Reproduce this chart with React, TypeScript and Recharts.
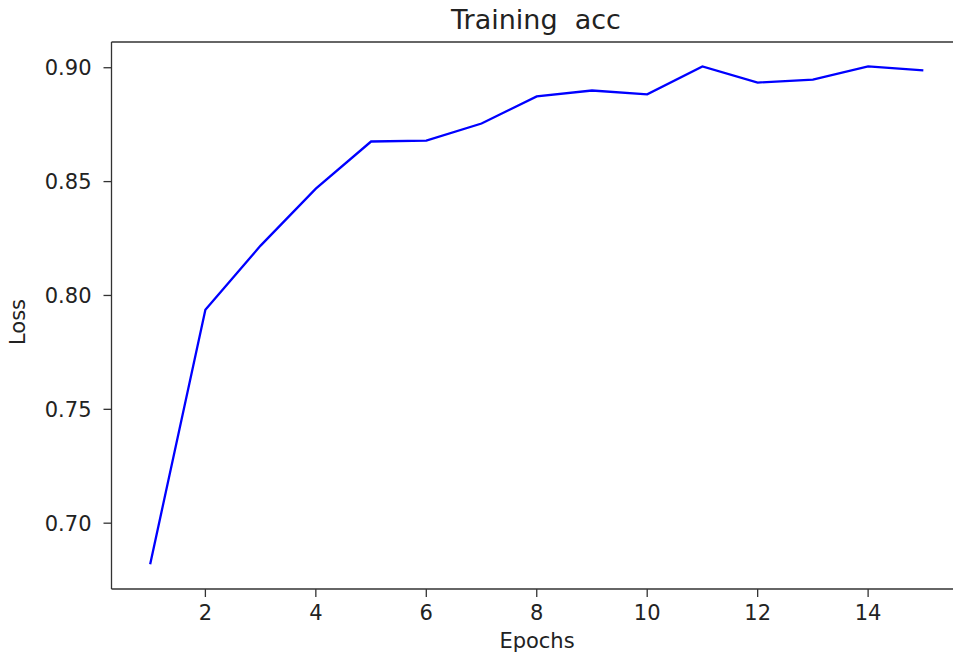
import React from "react";
import { LineChart, Line, XAxis, YAxis, ReferenceLine } from "recharts";

const epochs = [1, 2, 3, 4, 5, 6, 7, 8, 9, 10, 11, 12, 13, 14, 15];
const accuracy = [
    0.682, 0.7937, 0.8219, 0.8469, 0.8676, 0.868, 0.8755, 0.8874, 0.89, 0.8883,
    0.9006, 0.8935, 0.8948, 0.9006, 0.8988,
];
const xTicks = [2, 4, 6, 8, 10, 12, 14];
const yTicks = [0.7, 0.75, 0.8, 0.85, 0.9];
const xDomain = [0.3, 15.7];
const yDomain = [0.6711, 0.9113];

const data = epochs.map((e, i) => ({ epoch: e, acc: accuracy[i] }));

const FONT = "'DejaVu Sans', sans-serif";
const INK = "#222";
const SPINE = "#333";

export default function App() {
    return (
        <div
            style={{
                position: "fixed",
                left: 0,
                top: 0,
                width: 953,
                height: 655,
                overflow: "hidden",
                background: "#fff",
                fontFamily: FONT,
            }}
        >
            <LineChart
                width={980}
                height={655}
                data={data}
                margin={{ top: 42, right: 18, bottom: 6, left: 0 }}
            >
                <XAxis
                    dataKey="epoch"
                    type="number"
                    domain={xDomain}
                    ticks={xTicks}
                    height={60}
                    tickSize={8}
                    tickMargin={8}
                    axisLine={{ stroke: SPINE, strokeWidth: 1.3 }}
                    tickLine={{ stroke: SPINE, strokeWidth: 1.3 }}
                    tick={{ fill: INK, fontSize: 21, fontFamily: FONT }}
                    allowDataOverflow
                />
                <YAxis
                    type="number"
                    domain={yDomain}
                    ticks={yTicks}
                    width={111.5}
                    tickSize={8}
                    tickMargin={12}
                    tickFormatter={(v: number) => v.toFixed(2)}
                    axisLine={{ stroke: SPINE, strokeWidth: 1.3 }}
                    tickLine={{ stroke: SPINE, strokeWidth: 1.3 }}
                    tick={{ fill: INK, fontSize: 21, fontFamily: FONT }}
                    allowDataOverflow
                />
                {/* top spine */}
                <ReferenceLine y={yDomain[1]} stroke={SPINE} strokeWidth={1.3} ifOverflow="extendDomain" />
                <Line
                    dataKey="acc"
                    stroke="#0000ff"
                    strokeWidth={2.3}
                    dot={false}
                    activeDot={false}
                    isAnimationActive={false}
                />
            </LineChart>
            <svg
                width={953}
                height={655}
                style={{ position: "absolute", left: 0, top: 0, pointerEvents: "none" }}
            >
                <text
                    x={536}
                    y={29}
                    textAnchor="middle"
                    fontSize={27}
                    fill={INK}
                    fontFamily={FONT}
                    style={{ whiteSpace: "pre" }}
                >
                    {"Training  acc"}
                </text>
                <text x={537} y={648} textAnchor="middle" fontSize={21} fill={INK} fontFamily={FONT}>
                    Epochs
                </text>
                <text
                    x={25}
                    y={322}
                    textAnchor="middle"
                    fontSize={21}
                    fill={INK}
                    fontFamily={FONT}
                    transform="rotate(-90, 25, 322)"
                >
                    Loss
                </text>
            </svg>
        </div>
    );
}
